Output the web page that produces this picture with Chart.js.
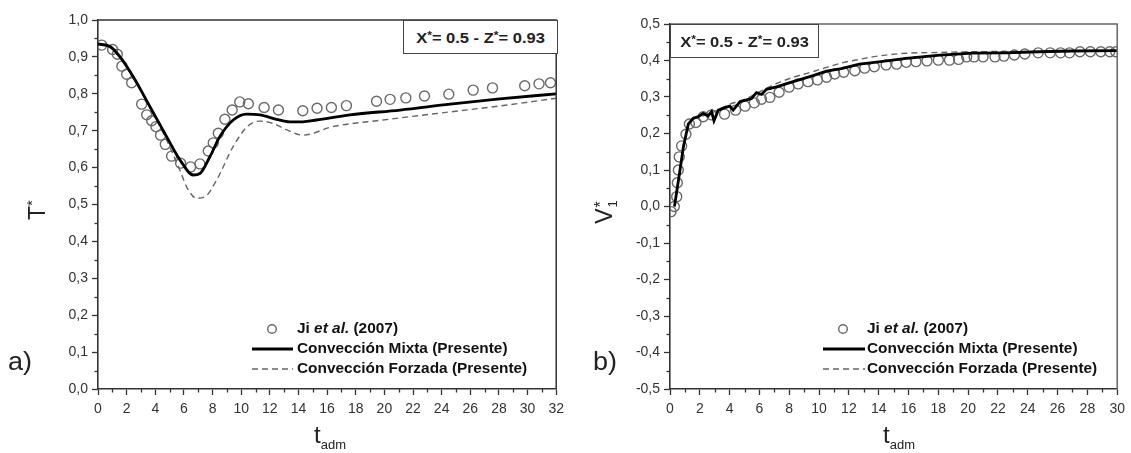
<!DOCTYPE html>
<html>
<head>
<meta charset="utf-8">
<script src="https://cdn.jsdelivr.net/npm/chart.js@4/dist/chart.umd.min.js"></script>
<style>
  html, body { margin:0; padding:0; background:#fff; }
  body { width:1131px; height:453px; position:relative; overflow:hidden;
         font-family:"Liberation Sans", Arial, sans-serif; color:#222; }
  .cbox { position:absolute; top:0; height:453px; }
  .ov { position:absolute; white-space:nowrap; z-index:5; }
  .ytitle { font-size:23px; transform:translate(-50%,-50%) rotate(-90deg); line-height:1; }
  .plab { font-size:25px; line-height:1; transform-origin:0 0; transform:scaleX(1.08); }
  .xt { font-size:24px; line-height:1; }
  .xt sub { font-size:13px; vertical-align:-6px; line-height:1; }
  .pbox { border:1px solid #444; background:#fff; font-weight:bold; font-size:15px;
          display:flex; align-items:center; justify-content:center; box-sizing:border-box; }
  .pbox span.in { display:inline-block; transform:scaleX(1.1); }
  .pbox sup { font-size:11px; vertical-align:4px; }
  .vs { display:inline-block; vertical-align:middle; line-height:0.85; font-size:13px; text-align:left; margin-left:1px; }
</style>
</head>
<body>
<div class="cbox" style="left:0;width:570px"><canvas id="cA"></canvas></div>
<div class="cbox" style="left:570px;width:561px"><canvas id="cB"></canvas></div>

<div class="ov ytitle" style="left:36px;top:210px">T<span style="font-size:15px;vertical-align:8px">*</span></div>
<div class="ov ytitle" style="left:606px;top:212px">V<span class="vs"><span style="font-size:16px">*</span><br>1</span></div>
<div class="ov plab" style="left:8px;top:349px">a)</div>
<div class="ov plab" style="left:593px;top:349px">b)</div>
<div class="ov xt" style="left:314px;top:423px">t<sub>adm</sub></div>
<div class="ov xt" style="left:883px;top:423px">t<sub>adm</sub></div>
<div class="ov pbox" style="left:403px;top:20px;width:155px;height:34px"><span class="in">X<sup>*</sup>= 0.5 - Z<sup>*</sup>= 0.93</span></div>
<div class="ov pbox" style="left:670px;top:24px;width:149px;height:34px"><span class="in">X<sup>*</sup>= 0.5 - Z<sup>*</sup>= 0.93</span></div>

<script>
// ---------------- data ----------------
// Panel a) : T* vs t_adm
const tJiA  = [0.26,1.02,1.35,1.67,2.0,2.35,3.05,3.4,3.75,4.05,4.37,4.7,5.14,5.77,6.47,7.12,7.7,8.05,8.4,8.86,9.37,9.9,10.5,11.6,12.6,14.3,15.3,16.3,17.35,19.45,20.4,21.5,22.8,24.5,26.2,27.55,29.8,30.8,31.6];
const TJiA  = [0.932,0.92,0.907,0.875,0.853,0.83,0.772,0.743,0.727,0.711,0.688,0.663,0.631,0.612,0.602,0.61,0.645,0.667,0.693,0.731,0.756,0.778,0.773,0.763,0.756,0.754,0.761,0.763,0.768,0.780,0.785,0.789,0.794,0.799,0.810,0.816,0.822,0.827,0.83];
const tMixA = [0,0.84,1.54,2.46,3.63,4.79,5.72,6.65,7.12,7.82,8.51,9.44,10.38,11.3,12.47,13.4,14.3,15.26,17.6,21.1,24.6,28.05,32];
const TMixA = [0.935,0.928,0.90,0.846,0.765,0.684,0.621,0.58,0.584,0.63,0.684,0.729,0.745,0.743,0.731,0.724,0.724,0.729,0.743,0.756,0.772,0.786,0.80];
const tForA = [0,0.84,1.54,2.46,3.63,4.79,5.72,6.19,6.89,7.47,8.28,9.44,10.45,11.3,12.2,13.2,14.3,16.4,19.9,24.6,28.05,32];
const TForA = [0.935,0.926,0.897,0.843,0.762,0.675,0.593,0.548,0.517,0.521,0.566,0.657,0.712,0.726,0.72,0.702,0.688,0.711,0.729,0.751,0.767,0.788];
const yTicksA = [0,0.1,0.2,0.3,0.4,0.5,0.6,0.7,0.8,0.9,1.0];
const xTicksA = [0,2,4,6,8,10,12,14,16,18,20,22,24,26,28,30,32];

// Panel b) : V1* vs t_adm
const tJiB  = [0.07,0.29,0.45,0.49,0.56,0.62,0.78,1.07,1.3,1.74,2.23,2.79,3.66,4.4,5.04,5.65,6.14,6.7,7.32,7.99,8.6,9.26,9.89,10.5,11.05,11.65,12.4,13.06,13.7,14.5,15.2,15.85,16.5,17.24,18.0,18.75,19.36,19.9,20.4,21.0,21.8,22.4,23.1,23.8,24.7,25.5,26.2,26.8,27.5,28.2,28.9,29.5,29.9];
const VJiB  = [-0.014,0.0,0.027,0.065,0.10,0.136,0.166,0.198,0.226,0.23,0.246,0.251,0.253,0.264,0.275,0.284,0.294,0.299,0.313,0.327,0.336,0.342,0.347,0.354,0.363,0.368,0.372,0.379,0.383,0.388,0.39,0.395,0.397,0.399,0.401,0.401,0.403,0.41,0.41,0.41,0.41,0.412,0.415,0.418,0.421,0.421,0.421,0.421,0.424,0.424,0.424,0.424,0.424];
const tMixB = [0.3,0.67,0.9,1.23,1.56,1.9,2.23,2.56,2.79,2.95,3.24,3.68,4.0,4.24,4.69,5.14,5.47,5.8,6.14,6.47,7.15,8.26,9.38,10.5,11.5,12.7,13.6,15.85,18.1,20.3,22.55,24.8,27.0,30];
const VMixB = [0.0,0.1,0.164,0.226,0.242,0.246,0.255,0.248,0.26,0.235,0.264,0.271,0.275,0.264,0.287,0.292,0.296,0.312,0.307,0.321,0.328,0.342,0.356,0.371,0.378,0.39,0.394,0.406,0.415,0.42,0.421,0.424,0.426,0.427];
const tForB = [0.3,0.7,1.2,2.0,3.0,4.0,5.14,6.03,7.15,8.26,9.38,10.5,11.6,12.7,13.6,15.85,18.1,20.3,24.8,30];
const VForB = [0.0,0.1,0.22,0.245,0.26,0.28,0.296,0.315,0.337,0.354,0.367,0.381,0.394,0.403,0.41,0.42,0.422,0.424,0.425,0.427];
const yTicksB = [-0.5,-0.4,-0.3,-0.2,-0.1,0,0.1,0.2,0.3,0.4,0.5];
const xTicksB = [0,2,4,6,8,10,12,14,16,18,20,22,24,26,28,30];

const legendLabels = ['Ji et al. (2007)','Convección Mixta (Presente)','Convección Forzada (Presente)'];

// ---------------- helpers ----------------
const pts = (xs, ys) => xs.map((x, i) => ({x, y: ys[i]}));
const FONT = '"Liberation Sans", Arial, sans-serif';
const fmt = v => { const r = Math.round(v*10)/10; return (r === 0 ? 0 : r).toFixed(1).replace('.', ','); };

// minor ticks + frame plugin
const framePlugin = {
  id: 'frame',
  afterDraw(chart, args, opts) {
    const {ctx, chartArea: a, scales: {x, y}} = chart;
    ctx.save();
    ctx.strokeStyle = '#333';
    ctx.lineWidth = 1.3;
    for (let v = x.min + opts.xMinor; v < x.max; v += opts.xMinor * 2) {
      const px = Math.round(x.getPixelForValue(v)) + 0.5;
      ctx.beginPath(); ctx.moveTo(px, a.bottom); ctx.lineTo(px, a.bottom + 3.5); ctx.stroke();
    }
    for (let k = 0; ; k++) {
      const v = y.min + opts.yMinor * (2*k + 1);
      if (v > y.max) break;
      const py = Math.round(y.getPixelForValue(v)) + 0.5;
      ctx.beginPath(); ctx.moveTo(a.left, py); ctx.lineTo(a.left - 3.5, py); ctx.stroke();
    }
    ctx.strokeStyle = opts.frameColor;
    ctx.lineWidth = 1.5;
    ctx.beginPath();
    ctx.moveTo(a.left, a.top); ctx.lineTo(a.right, a.top); ctx.lineTo(a.right, a.bottom);
    ctx.stroke();
    ctx.restore();
  }
};

// in-plot legend plugin (uses the datasets' own styles)
const legendPlugin = {
  id: 'inlegend',
  afterDraw(chart, args, o) {
    const ctx = chart.ctx;
    const ds = chart.data.datasets;
    const SX = 1.1;
    const txt = (parts, y) => {
      ctx.save();
      ctx.translate(o.tx, y);
      ctx.scale(SX, 1);
      let x = 0;
      parts.forEach(([s, f]) => { ctx.font = f + ' 14px ' + FONT; ctx.fillText(s, x, 0); x += ctx.measureText(s).width; });
      ctx.restore();
    };
    ctx.save();
    ctx.textBaseline = 'middle';
    ctx.fillStyle = '#111';
    ctx.beginPath();
    ctx.strokeStyle = ds[0].borderColor; ctx.lineWidth = 1.4;
    ctx.arc(o.cx, o.y0, 4.3, 0, Math.PI*2); ctx.stroke();
    txt([['Ji ', 'bold'], ['et al.', 'italic bold'], [' (2007)', 'bold']], o.y0);
    ctx.strokeStyle = ds[1].borderColor; ctx.lineWidth = ds[1].borderWidth; ctx.setLineDash([]);
    ctx.beginPath(); ctx.moveTo(o.lx0, o.y0 + 20); ctx.lineTo(o.lx1, o.y0 + 20); ctx.stroke();
    txt([[legendLabels[1], 'bold']], o.y0 + 20);
    ctx.strokeStyle = ds[2].borderColor; ctx.lineWidth = ds[2].borderWidth; ctx.setLineDash(ds[2].borderDash);
    ctx.beginPath(); ctx.moveTo(o.lx0, o.y0 + 40); ctx.lineTo(o.lx1, o.y0 + 40); ctx.stroke();
    ctx.setLineDash([]);
    txt([[legendLabels[2], 'bold']], o.y0 + 40);
    ctx.restore();
  }
};

function makeChart(id, cfg) {
  return new Chart(document.getElementById(id), {
    type: 'scatter',
    data: {
      datasets: [
        { label: legendLabels[0], data: pts(cfg.tJi, cfg.yJi), showLine: false,
          pointStyle: 'circle', pointRadius: cfg.pr, pointBorderWidth: 1.4,
          borderColor: '#6a6a6a', backgroundColor: 'rgba(255,255,255,0)', order: 3 },
        { label: legendLabels[1], data: pts(cfg.tMix, cfg.yMix), showLine: true,
          borderColor: '#000', borderWidth: 2.8, pointRadius: 0,
          cubicInterpolationMode: cfg.smoothMix ? 'monotone' : 'default', tension: 0, order: 1 },
        { label: legendLabels[2], data: pts(cfg.tFor, cfg.yFor), showLine: true,
          borderColor: '#666', borderWidth: 1.4, borderDash: [6,4], pointRadius: 0,
          cubicInterpolationMode: 'monotone', order: 2 }
      ]
    },
    options: {
      responsive: true, maintainAspectRatio: false, animation: false,
      layout: { padding: cfg.pad },
      plugins: {
        legend: { display: false }, tooltip: { enabled: false },
        frame: { xMinor: 1, yMinor: 0.05, frameColor: cfg.frameColor },
        inlegend: cfg.leg
      },
      scales: {
        x: {
          type: 'linear', min: cfg.xTicks[0], max: cfg.xTicks[cfg.xTicks.length-1],
          afterBuildTicks: s => { s.ticks = cfg.xTicks.map(v => ({value: v})); },
          afterFit: s => { s.height = 64; },
          ticks: { color: '#333', font: { family: FONT, size: 14 }, padding: 6,
                   maxRotation: 0, autoSkip: false, callback: v => String(v) },
          grid: { drawOnChartArea: false, drawTicks: true, tickLength: 6, tickColor: '#333', tickWidth: 1.3 },
          border: { display: true, color: '#333', width: 1.6 }
        },
        y: {
          type: 'linear', min: cfg.yTicks[0], max: cfg.yTicks[cfg.yTicks.length-1],
          afterBuildTicks: s => { s.ticks = cfg.yTicks.map(v => ({value: v})); },
          afterFit: s => { s.width = cfg.yw; },
          ticks: { color: '#333', font: { family: FONT, size: 14 }, padding: 4,
                   autoSkip: false, callback: v => fmt(v) },
          grid: { drawOnChartArea: false, drawTicks: true, tickLength: 6, tickColor: '#333', tickWidth: 1.3 },
          border: { display: true, color: '#333', width: 1.6 }
        }
      }
    },
    plugins: [framePlugin, legendPlugin]
  });
}

makeChart('cA', {
  tJi: tJiA, yJi: TJiA, tMix: tMixA, yMix: TMixA, tFor: tForA, yFor: TForA,
  xTicks: xTicksA, yTicks: yTicksA, pr: 5, smoothMix: true,
  pad: { left: 0, top: 20, right: 12, bottom: 0 }, yw: 98, frameColor: '#333',
  leg: { cx: 272, lx0: 252, lx1: 293, tx: 297, y0: 329 }
});
makeChart('cB', {
  tJi: tJiB, yJi: VJiB, tMix: tMixB, yMix: VMixB, tFor: tForB, yFor: VForB,
  xTicks: xTicksB, yTicks: yTicksB, pr: 5, smoothMix: false,
  pad: { left: 0, top: 24, right: 13, bottom: 0 }, yw: 100, frameColor: '#666',
  leg: { cx: 273, lx0: 253, lx1: 295, tx: 297, y0: 329 }
});
</script>
</body>
</html>
